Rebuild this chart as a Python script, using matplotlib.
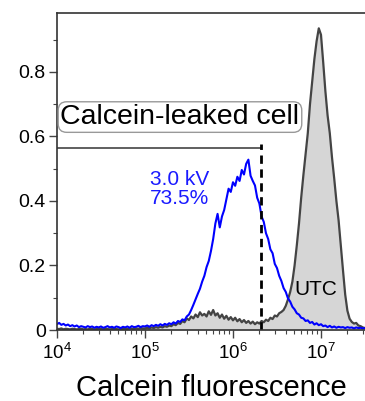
import numpy as np
import matplotlib.pyplot as plt
from matplotlib.ticker import FixedLocator, LogLocator, MultipleLocator, FuncFormatter

plt.rcParams['font.family'] = ['Liberation Sans', 'DejaVu Sans']
plt.rcParams['mathtext.fontset'] = 'custom'
plt.rcParams['mathtext.rm'] = 'Liberation Sans'
plt.rcParams['mathtext.default'] = 'regular'

# histogram bins, log10 of fluorescence, step 0.025 from 4.0 to 7.5
log_x = np.arange(141) * 0.025 + 4.0

# 3.0 kV treated cells (blue)
kv_30 = [
    # 10^4 - 10^5
    0.018, 0.022, 0.016, 0.019, 0.014, 0.017, 0.012, 0.015, 0.011, 0.014,
    0.009, 0.012, 0.010, 0.008, 0.012, 0.009, 0.011, 0.007, 0.010, 0.008,
    0.011, 0.007, 0.009, 0.012, 0.008, 0.010, 0.007, 0.011, 0.009, 0.006,
    0.010, 0.008, 0.011, 0.007, 0.012, 0.009, 0.010, 0.013, 0.009, 0.012,
    # 10^5 - 10^6
    0.011, 0.014, 0.010, 0.015, 0.012, 0.016, 0.013, 0.018, 0.014, 0.019,
    0.016, 0.021, 0.018, 0.024, 0.020, 0.028, 0.025, 0.033, 0.030, 0.042,
    0.048, 0.062, 0.078, 0.095, 0.112, 0.128, 0.150, 0.168, 0.195, 0.214,
    0.245, 0.282, 0.330, 0.360, 0.318, 0.352, 0.372, 0.405, 0.438, 0.428,
    # 10^6 - 10^7
    0.458, 0.447, 0.475, 0.462, 0.496, 0.482, 0.515, 0.528, 0.478, 0.462,
    0.448, 0.410, 0.392, 0.352, 0.335, 0.300, 0.282, 0.250, 0.238, 0.205,
    0.192, 0.168, 0.152, 0.130, 0.118, 0.098, 0.088, 0.072, 0.064, 0.052,
    0.048, 0.038, 0.036, 0.028, 0.030, 0.022, 0.025, 0.017, 0.021, 0.015,
    # 10^7 - 10^7.5
    0.018, 0.012, 0.014, 0.009, 0.013, 0.008, 0.011, 0.007, 0.010, 0.008,
    0.009, 0.006, 0.009, 0.007, 0.008, 0.005, 0.008, 0.006, 0.007, 0.005,
    0.006,
]

# untreated control (gray, filled)
utc = [
    0.004, 0.003, 0.005, 0.002, 0.004, 0.003, 0.002, 0.004, 0.003, 0.002,
    0.003, 0.004, 0.002, 0.003, 0.002, 0.004, 0.003, 0.002, 0.003, 0.004,
    0.003, 0.002, 0.004, 0.003, 0.002, 0.003, 0.004, 0.003, 0.002, 0.004,
    0.003, 0.004, 0.003, 0.005, 0.004, 0.003, 0.005, 0.004, 0.006, 0.005,
    0.005, 0.007, 0.005, 0.008, 0.006, 0.009, 0.007, 0.010, 0.008, 0.012,
    0.010, 0.014, 0.012, 0.018, 0.015, 0.022, 0.019, 0.028, 0.024, 0.036,
    0.031, 0.042, 0.036, 0.048, 0.040, 0.055, 0.045, 0.050, 0.042, 0.058,
    0.047, 0.062, 0.045, 0.052, 0.038, 0.048, 0.035, 0.044, 0.032, 0.040,
    0.030, 0.038, 0.027, 0.034, 0.024, 0.031, 0.022, 0.028, 0.020, 0.026,
    0.018, 0.024, 0.020, 0.028, 0.024, 0.032, 0.028, 0.038, 0.034, 0.045,
    0.042, 0.052, 0.056, 0.062, 0.075, 0.095, 0.118, 0.150, 0.200, 0.262,
    0.330, 0.410, 0.480, 0.545, 0.610, 0.700, 0.770, 0.840, 0.895, 0.935,
    0.915, 0.830, 0.740, 0.665, 0.610, 0.535, 0.470, 0.400, 0.340, 0.262,
    0.185, 0.110, 0.060, 0.035, 0.025, 0.020, 0.022, 0.014, 0.012, 0.008,
    0.006,
]

gate_x = 2.07e6
gate_y = 0.565

x = 10 ** log_x

fig = plt.figure(figsize=(3.65, 4.01), dpi=100)
ax = fig.add_axes([0.156, 0.177, 0.844, 0.791])

ax.fill_between(x, 0, utc, color='#d6d6d6', linewidth=0)
ax.plot(x, utc, color='#444444', linewidth=1.6)
ax.plot(x, kv_30, color='#0000ff', linewidth=1.5)

# gate
ax.plot([1e4, gate_x], [gate_y, gate_y], color='#444444', linewidth=1.2)
ax.plot([gate_x, gate_x], [0, gate_y + 0.01], color='black', linewidth=2,
        linestyle=(0, (3, 2)))

ax.text(2.5e5, 0.66, 'Calcein-leaked cell', fontsize=20.5, ha='center',
        va='center',
        bbox=dict(boxstyle='round,pad=0.08,rounding_size=0.3', fc='white',
                  ec='#999999', lw=1))
ax.text(2.45e5, 0.437, '3.0 kV\n73.5%', fontsize=15, color='#1a1aff',
        ha='center', va='center', linespacing=1.05)
ax.text(8.7e6, 0.127, 'UTC', fontsize=15, ha='center', va='center')

ax.set_xscale('log')
ax.set_xlim(1e4, 10 ** 7.5)
ax.set_ylim(0, 0.983)

ax.xaxis.set_major_locator(FixedLocator([1e4, 1e5, 1e6, 1e7]))
ax.xaxis.set_minor_locator(LogLocator(base=10, subs=np.arange(2, 10)))
ax.xaxis.set_major_formatter(
    FuncFormatter(lambda v, p: '$10^{%d}$' % round(np.log10(v))))
ax.yaxis.set_major_locator(FixedLocator([0, 0.2, 0.4, 0.6, 0.8]))
ax.yaxis.set_minor_locator(MultipleLocator(0.1))
ax.yaxis.set_major_formatter(FuncFormatter(lambda v, p: '0' if v == 0 else '%.1f' % v))

ax.tick_params(which='major', direction='out', length=6, width=1,
               labelsize=14, color='#444444', pad=2)
ax.tick_params(axis='x', which='major', labelsize=13.5, pad=3)
ax.tick_params(which='minor', direction='out', length=3, width=0.8,
               color='#444444')
ax.spines['right'].set_visible(False)
for s in ['left', 'bottom', 'top']:
    ax.spines[s].set_color('#333333')
    ax.spines[s].set_linewidth(1.2)

ax.set_xlabel('Calcein fluorescence', fontsize=21, labelpad=8)

fig.savefig('out.png', dpi=100)
